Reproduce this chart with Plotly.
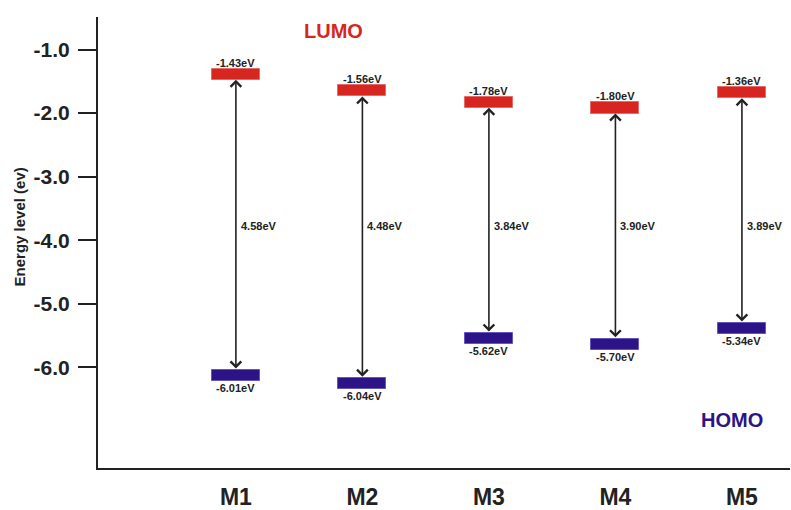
import plotly.graph_objects as go

# ---- data ----
molecules = ["M1", "M2", "M3", "M4", "M5"]
lumo_level = [-1.39, -1.65, -1.83, -1.92, -1.68]      # drawn LUMO level (eV)
homo_level = [-6.13, -6.26, -5.55, -5.64, -5.39]      # drawn HOMO level (eV)
lumo_text = ["-1.43eV", "-1.56eV", "-1.78eV", "-1.80eV", "-1.36eV"]
homo_text = ["-6.01eV", "-6.04eV", "-5.62eV", "-5.70eV", "-5.34eV"]
gap_text = ["4.58eV", "4.48eV", "3.84eV", "3.90eV", "3.89eV"]
y_ticks = [-1.0, -2.0, -3.0, -4.0, -5.0, -6.0]
y_tick_text = ["-1.0", "-2.0", "-3.0", "-4.0", "-5.0", "-6.0"]

# ---- style ----
FONT = "Liberation Sans, Arial, sans-serif"
RED = "#d6261f"
BLUE = "#2c1488"
INK = "#222222"
THICK = 0.175       # drawn thickness of an energy level bar (eV)
BAR_W = 0.38
GAP_LABEL_Y = -3.78

fig = go.Figure()
fig.add_trace(go.Bar(
    x=molecules, y=[THICK] * len(molecules),
    base=[v - THICK / 2 for v in lumo_level],
    width=BAR_W, marker=dict(color=RED, line=dict(color="#e46a6a", width=1)),
    hoverinfo="skip", showlegend=False))
fig.add_trace(go.Bar(
    x=molecules, y=[THICK] * len(molecules),
    base=[v - THICK / 2 for v in homo_level],
    width=BAR_W, marker=dict(color=BLUE, line=dict(color="#6655bb", width=1)),
    hoverinfo="skip", showlegend=False))

ann = []
for i, m in enumerate(molecules):
    lu, ho = lumo_level[i], homo_level[i]
    # double-headed arrow
    ann.append(dict(x=i, y=lu - THICK / 2, ax=i, ay=ho + THICK / 2,
                    xref="x", yref="y", axref="x", ayref="y", text="",
                    showarrow=True, arrowhead=4, startarrowhead=4,
                    arrowside="end+start", arrowwidth=1.6, arrowsize=1.3,
                    startarrowsize=1.3, arrowcolor=INK, standoff=0, startstandoff=0))
    ann.append(dict(x=i, y=lu + THICK / 2, xref="x", yref="y", text=lumo_text[i],
                    showarrow=False, yanchor="bottom", xanchor="center", yshift=-2,
                    font=dict(family=FONT, size=11, color=INK, weight="bold")))
    ann.append(dict(x=i, y=ho - THICK / 2, xref="x", yref="y", text=homo_text[i],
                    showarrow=False, yanchor="top", xanchor="center", yshift=1,
                    font=dict(family=FONT, size=11, color=INK, weight="bold")))
    ann.append(dict(x=i, y=GAP_LABEL_Y, xref="x", yref="y", text=gap_text[i],
                    showarrow=False, yanchor="middle", xanchor="left", xshift=3,
                    font=dict(family=FONT, size=11, color=INK, weight="bold")))

ann.append(dict(x=0.77, y=-0.71, xref="x", yref="y", text="LUMO", showarrow=False,
                font=dict(family=FONT, size=20, color=RED, weight="bold")))
ann.append(dict(x=3.92, y=-6.83, xref="x", yref="y", text="HOMO", showarrow=False,
                font=dict(family=FONT, size=20, color=BLUE, weight="bold")))
ann.append(dict(x=(19 - 98) / 692, xref="paper", y=-3.8, yref="y",
                text="Energy level (ev)",
                showarrow=False, textangle=-90, xanchor="center", yanchor="middle",
                font=dict(family=FONT, size=15, color=INK, weight="bold")))

fig.update_layout(
    width=791, height=510,
    margin=dict(l=98, r=1, t=17, b=42),
    paper_bgcolor="white", plot_bgcolor="white",
    barmode="overlay", bargap=0,
    annotations=ann,
    xaxis=dict(type="category", range=[-1.09, 4.38], showgrid=False, zeroline=False,
               showline=True, linecolor=INK, linewidth=2, ticks="",
               ticklabelstandoff=7, automargin=False,
               tickfont=dict(family=FONT, size=23, color=INK, weight="bold")),
    yaxis=dict(range=[-7.586, -0.488], showgrid=False, zeroline=False,
               showline=True, linecolor=INK, linewidth=2, automargin=False,
               tickmode="array", tickvals=y_ticks, ticktext=y_tick_text,
               ticks="outside", ticklen=18, tickwidth=2, tickcolor=INK,
               ticklabelstandoff=4,
               tickfont=dict(family=FONT, size=21, color=INK, weight="bold")),
)

fig.write_html("out.html", config={"displayModeBar": False},
               post_script="document.body.style.margin='0px';document.body.style.overflow='hidden';")
